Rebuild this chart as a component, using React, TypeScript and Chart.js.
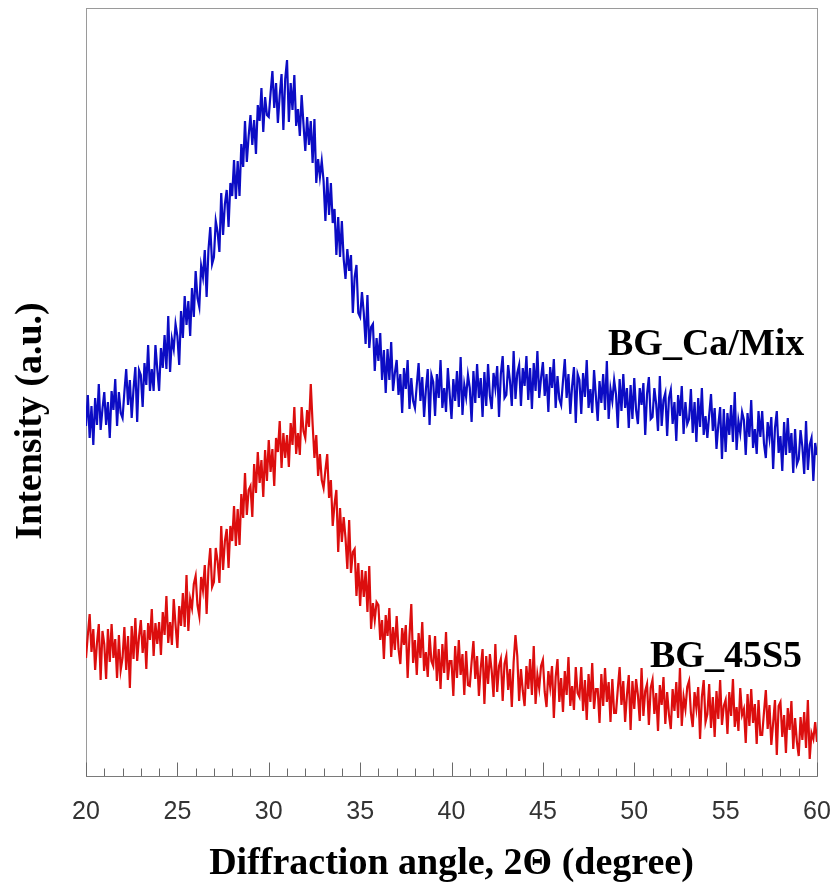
import { useEffect, useRef } from "react";
import { Chart, registerables } from "chart.js";

Chart.register(...registerables);

// Sampling grid: 20.0 .. 60.0 deg, 0.1 deg step (one row per degree)
const X_START = 20;
const X_STEP = 0.1;

// BG_Ca/Mix intensity (a.u.), rows = 20.x, 21.x, ... 59.x, then 60.0
const caMixRows: number[][] = [
  [350, 381, 338, 370, 331, 378, 351, 392, 346, 367],
  [384, 351, 374, 338, 385, 366, 397, 350, 384, 363],
  [358, 384, 407, 371, 396, 358, 387, 409, 354, 406],
  [401, 369, 413, 391, 431, 385, 407, 385, 431, 407],
  [385, 428, 408, 441, 407, 460, 404, 437, 427, 452],
  [440, 411, 465, 438, 480, 451, 475, 440, 488, 459],
  [505, 478, 469, 510, 499, 526, 479, 526, 549, 512],
  [519, 555, 544, 524, 583, 541, 572, 586, 549, 593],
  [580, 616, 577, 615, 580, 632, 609, 655, 614, 640],
  [661, 631, 656, 622, 671, 655, 688, 644, 679, 661],
  [659, 683, 705, 668, 693, 653, 681, 702, 646, 697],
  [716, 654, 693, 666, 701, 650, 667, 640, 681, 652],
  [625, 659, 631, 655, 613, 657, 593, 617, 599, 615],
  [595, 555, 599, 561, 593, 553, 567, 521, 559, 519],
  [555, 517, 497, 527, 505, 521, 463, 499, 511, 463],
  [459, 484, 463, 432, 481, 428, 449, 452, 405, 438],
  [415, 443, 396, 426, 383, 427, 396, 434, 385, 403],
  [416, 381, 402, 363, 408, 387, 416, 367, 398, 375],
  [368, 391, 413, 375, 399, 359, 387, 407, 351, 401],
  [394, 360, 402, 378, 416, 368, 388, 364, 408, 382],
  [357, 397, 375, 405, 369, 419, 361, 391, 379, 401],
  [388, 354, 405, 373, 412, 378, 398, 359, 404, 370],
  [412, 380, 367, 403, 388, 410, 359, 402, 420, 378],
  [381, 411, 395, 370, 425, 377, 403, 411, 370, 408],
  [390, 420, 376, 408, 367, 413, 385, 425, 378, 398],
  [414, 380, 402, 364, 409, 388, 417, 368, 400, 377],
  [371, 395, 417, 378, 402, 362, 390, 409, 353, 402],
  [396, 362, 403, 379, 416, 368, 387, 363, 406, 380],
  [355, 395, 373, 402, 366, 415, 357, 387, 375, 396],
  [382, 348, 397, 365, 402, 368, 388, 348, 391, 357],
  [398, 366, 352, 388, 371, 393, 341, 382, 399, 357],
  [359, 388, 372, 345, 400, 350, 376, 383, 340, 378],
  [386, 352, 374, 335, 381, 360, 390, 342, 374, 352],
  [357, 387, 343, 374, 334, 378, 349, 388, 341, 360],
  [338, 361, 382, 345, 368, 327, 351, 369, 317, 367],
  [324, 363, 341, 371, 334, 384, 326, 355, 343, 364],
  [356, 321, 363, 339, 376, 328, 347, 322, 365, 339],
  [365, 332, 318, 354, 338, 359, 307, 348, 365, 323],
  [340, 305, 354, 321, 358, 323, 343, 303, 347, 312],
  [317, 346, 329, 302, 355, 306, 331, 338, 295, 333],
  [321],
];

// BG_45S5 intensity (a.u.)
const s45Rows: number[][] = [
  [118, 141, 162, 124, 147, 106, 133, 152, 96, 145],
  [132, 97, 147, 114, 152, 118, 137, 98, 141, 106],
  [118, 149, 106, 140, 88, 150, 117, 158, 115, 139],
  [156, 123, 146, 107, 153, 136, 167, 120, 153, 132],
  [154, 121, 164, 141, 180, 133, 154, 131, 177, 151],
  [128, 170, 150, 183, 149, 201, 145, 177, 168, 192],
  [200, 171, 160, 199, 186, 211, 162, 207, 228, 189],
  [194, 228, 215, 193, 250, 206, 235, 247, 208, 250],
  [235, 270, 230, 267, 231, 282, 258, 303, 261, 286],
  [290, 259, 312, 283, 324, 293, 316, 279, 326, 295],
  [336, 304, 327, 290, 338, 324, 355, 308, 343, 318],
  [341, 309, 353, 331, 369, 322, 343, 321, 369, 345],
  [338, 366, 349, 392, 352, 318, 341, 300, 322, 296],
  [288, 306, 322, 278, 296, 250, 272, 286, 224, 268],
  [234, 259, 238, 207, 256, 203, 224, 227, 180, 213],
  [170, 206, 179, 205, 164, 210, 147, 173, 156, 174],
  [171, 136, 156, 117, 161, 140, 168, 119, 149, 126],
  [160, 127, 112, 148, 131, 151, 98, 140, 172, 113],
  [136, 101, 143, 118, 154, 105, 124, 99, 141, 115],
  [110, 140, 95, 127, 87, 132, 103, 144, 96, 115],
  [115, 80, 130, 98, 136, 101, 122, 81, 125, 91],
  [90, 114, 135, 97, 120, 80, 108, 127, 72, 120],
  [92, 122, 105, 79, 132, 84, 110, 117, 75, 112],
  [120, 86, 107, 69, 114, 141, 120, 75, 107, 85],
  [70, 110, 87, 117, 81, 130, 72, 101, 88, 110],
  [116, 84, 69, 105, 89, 110, 58, 99, 117, 74],
  [98, 64, 105, 81, 119, 70, 90, 66, 109, 83],
  [79, 109, 65, 96, 56, 102, 74, 113, 67, 87],
  [87, 53, 102, 70, 108, 74, 94, 54, 97, 63],
  [63, 87, 109, 71, 95, 54, 81, 101, 46, 95],
  [67, 97, 81, 55, 108, 60, 85, 92, 51, 88],
  [96, 62, 83, 45, 91, 71, 99, 52, 84, 61],
  [47, 87, 65, 94, 58, 108, 50, 79, 67, 89],
  [95, 63, 49, 84, 68, 89, 37, 79, 96, 54],
  [62, 92, 48, 79, 39, 85, 57, 96, 51, 70],
  [76, 42, 84, 60, 97, 49, 69, 45, 88, 61],
  [67, 33, 82, 50, 87, 53, 72, 32, 76, 41],
  [41, 64, 86, 47, 71, 31, 53, 76, 21, 70],
  [74, 39, 61, 23, 68, 46, 75, 27, 58, 34],
  [20, 59, 36, 64, 28, 76, 17, 43, 37, 54],
  [34],
];

const xTickValues = [20, 25, 30, 35, 40, 45, 50, 55, 60];
const seriesNames = ["BG_Ca/Mix", "BG_45S5"];
const xTitle = "Diffraction angle, 2\u0398 (degree)";
const yTitle = "Intensity (a.u.)";

const SERIF = '"Liberation Serif", "Times New Roman", Times, serif';
const SANS = '"Liberation Sans", Arial, Helvetica, sans-serif';

function toPoints(rows: number[][]) {
  const flat = rows.flat();
  return flat.map((y, i) => ({ x: +(X_START + i * X_STEP).toFixed(1), y }));
}

const decorPlugin = {
  id: "decor",
  beforeDatasetsDraw(chart: any) {
    const { ctx, chartArea } = chart;
    ctx.save();
    ctx.strokeStyle = "#9a9a9a";
    ctx.lineWidth = 1;
    ctx.strokeRect(
      Math.round(chartArea.left) + 0.5,
      Math.round(chartArea.top) + 0.5,
      Math.round(chartArea.right - chartArea.left),
      Math.round(chartArea.bottom - chartArea.top)
    );
    ctx.restore();
  },
  afterDatasetsDraw(chart: any) {
    const { ctx, chartArea, scales } = chart;
    const xs = scales.x;
    ctx.save();
    // inward ticks on bottom axis
    ctx.strokeStyle = "#6a6a6a";
    ctx.lineWidth = 1;
    const yb = Math.round(chartArea.bottom) + 0.5;
    for (let v = 20; v <= 60; v++) {
      const px = Math.round(xs.getPixelForValue(v)) + 0.5;
      const len = v % 5 === 0 ? 14 : 8;
      ctx.beginPath();
      ctx.moveTo(px, yb);
      ctx.lineTo(px, yb - len);
      ctx.stroke();
    }
    ctx.strokeStyle = "#7a7a7a";
    ctx.beginPath();
    ctx.moveTo(chartArea.left, yb);
    ctx.lineTo(chartArea.right, yb);
    ctx.stroke();

    // series labels
    ctx.fillStyle = "#000";
    ctx.font = `bold 38px ${SERIF}`;
    ctx.textAlign = "left";
    ctx.textBaseline = "alphabetic";
    ctx.fillText(seriesNames[0], 608, 355);
    ctx.fillText(seriesNames[1], 650, 667);

    // y title
    ctx.translate(31, 421);
    ctx.rotate(-Math.PI / 2);
    ctx.textAlign = "center";
    ctx.textBaseline = "middle";
    ctx.fillText(yTitle, 0, 0);
    ctx.restore();
  },
};

export default function App() {
  const ref = useRef<HTMLCanvasElement | null>(null);

  useEffect(() => {
    if (!ref.current) return;
    const chart = new Chart(ref.current, {
      type: "line",
      data: {
        datasets: [
          {
            label: seriesNames[0],
            data: toPoints(caMixRows),
            borderColor: "#0c0cc4",
            borderWidth: 2.2,
            pointRadius: 0,
            tension: 0,
          },
          {
            label: seriesNames[1],
            data: toPoints(s45Rows),
            borderColor: "#dc0e0e",
            borderWidth: 2.2,
            pointRadius: 0,
            tension: 0,
          },
        ],
      },
      options: {
        responsive: false,
        animation: false,
        layout: { padding: { left: 0, right: 16, top: 8, bottom: 0 } },
        plugins: {
          legend: { display: false },
          tooltip: { enabled: false },
        },
        scales: {
          x: {
            type: "linear",
            min: 20,
            max: 60,
            grid: { display: false, drawTicks: false },
            border: { display: false },
            afterBuildTicks: (scale: any) => {
              scale.ticks = xTickValues.map((v) => ({ value: v }));
            },
            afterFit: (scale: any) => {
              scale.height = 107;
              scale.paddingLeft = 0;
              scale.paddingRight = 0;
            },
            ticks: {
              font: { family: SANS, size: 25, lineHeight: 1 },
              color: "#333",
              padding: 24,
              maxRotation: 0,
              autoSkip: false,
            },
            title: {
              display: true,
              text: xTitle,
              font: { family: SERIF, size: 38, weight: "bold", lineHeight: 1 },
              color: "#000",
              padding: { top: 0, bottom: 0 },
            },
          },
          y: {
            min: 0,
            max: 768,
            grid: { display: false, drawTicks: false },
            border: { display: false },
            ticks: { display: false },
            afterFit: (scale: any) => {
              scale.width = 86;
              scale.paddingTop = 0;
              scale.paddingBottom = 0;
            },
          },
        },
      },
      plugins: [decorPlugin],
    });
    return () => chart.destroy();
  }, []);

  return (
    <div style={{ position: "absolute", left: 0, top: 0, width: 833, height: 883, background: "#fff" }}>
      <canvas ref={ref} width={833} height={883} style={{ display: "block" }} />
    </div>
  );
}
